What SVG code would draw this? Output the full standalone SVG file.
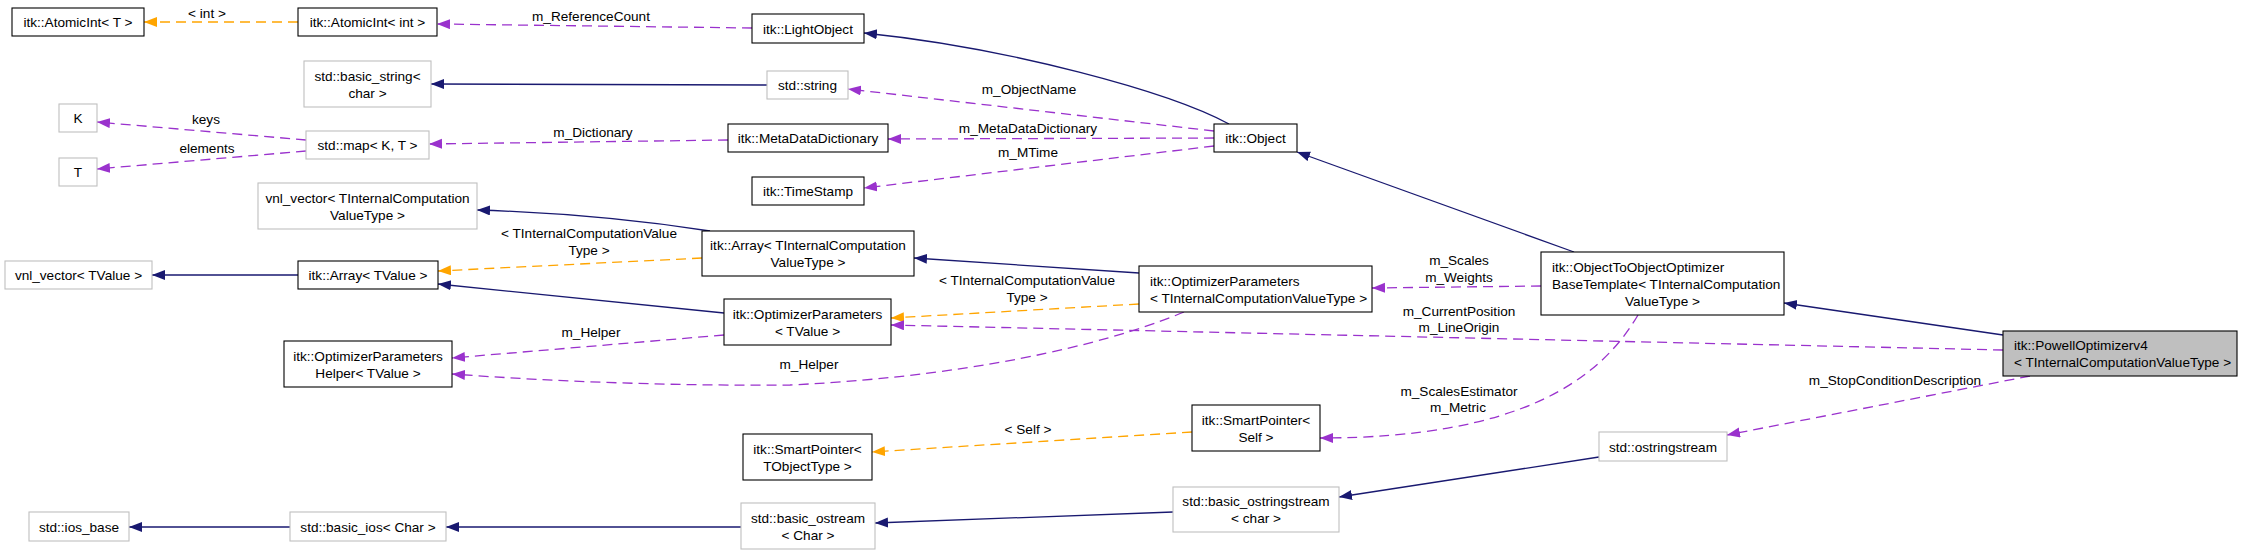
<svg xmlns="http://www.w3.org/2000/svg" width="2243" height="555" viewBox="0 0 2243 555">
<style>
text{font-family:"Liberation Sans",Arial,Helvetica,sans-serif;font-size:13.6px;fill:#000}
.c{text-anchor:middle}
.nb{fill:#fff;stroke:#000;stroke-width:1.1}
.ng{fill:#fff;stroke:#bfbfbf;stroke-width:1.1}
.nf{fill:#bfbfbf;stroke:#000;stroke-width:1.1}
.b{fill:none;stroke:#191970;stroke-width:1.3}
.p{fill:none;stroke:#9a32cd;stroke-width:1.3;stroke-dasharray:10,6}
.o{fill:none;stroke:#ffa500;stroke-width:1.3;stroke-dasharray:10,6}
</style>
<defs>
<marker id="ab" markerUnits="userSpaceOnUse" markerWidth="14" markerHeight="11" refX="13" refY="5" orient="auto"><path d="M0,0 L13,5 L0,10 z" fill="#191970"/></marker>
<marker id="ap" markerUnits="userSpaceOnUse" markerWidth="14" markerHeight="11" refX="13" refY="5" orient="auto"><path d="M0,0 L13,5 L0,10 z" fill="#9a32cd"/></marker>
<marker id="ao" markerUnits="userSpaceOnUse" markerWidth="14" markerHeight="11" refX="13" refY="5" orient="auto"><path d="M0,0 L13,5 L0,10 z" fill="#ffa500"/></marker>
</defs>
<rect width="2243" height="555" fill="#fff"/>
<g id="connectors">
<path class="o" d="M298,22 L144,22" marker-end="url(#ao)"/>
<text class="c" x="207" y="17.5">&lt; int &gt;</text>
<path class="p" d="M752,28 L437,24" marker-end="url(#ap)"/>
<text class="c" x="591" y="20.5">m_ReferenceCount</text>
<path class="b" d="M767,85 L431,84" marker-end="url(#ab)"/>
<path class="p" d="M728,140 L429,144" marker-end="url(#ap)"/>
<text class="c" x="593" y="136.5">m_Dictionary</text>
<path class="p" d="M306,140 L97,122" marker-end="url(#ap)"/>
<text class="c" x="206" y="123.5">keys</text>
<path class="p" d="M306,151 L97,169" marker-end="url(#ap)"/>
<text class="c" x="207" y="152.5">elements</text>
<path class="b" d="M1229,124 C1170,92 1010,48 864,33" marker-end="url(#ab)"/>
<path class="p" d="M1214,131 L848,89" marker-end="url(#ap)"/>
<text class="c" x="1029" y="93.5">m_ObjectName</text>
<path class="p" d="M1214,138 L888,139" marker-end="url(#ap)"/>
<text class="c" x="1028" y="132.5">m_MetaDataDictionary</text>
<path class="p" d="M1214,146 L864,188" marker-end="url(#ap)"/>
<text class="c" x="1028" y="156.5">m_MTime</text>
<path class="b" d="M710,231 Q600,214 477,210" marker-end="url(#ab)"/>
<path class="b" d="M298,275 L152,275" marker-end="url(#ab)"/>
<path class="o" d="M702,258 L438,271" marker-end="url(#ao)"/>
<text class="c" x="589" y="237.5">&lt; TInternalComputationValue</text>
<text class="c" x="589" y="254.5">Type &gt;</text>
<path class="b" d="M724,313 L438,284" marker-end="url(#ab)"/>
<path class="p" d="M724,335 L452,358" marker-end="url(#ap)"/>
<text class="c" x="591" y="336.5">m_Helper</text>
<path class="b" d="M1139,273 L914,258" marker-end="url(#ab)"/>
<path class="o" d="M1139,304 L891,318" marker-end="url(#ao)"/>
<text class="c" x="1027" y="284.5">&lt; TInternalComputationValue</text>
<text class="c" x="1027" y="301.5">Type &gt;</text>
<path class="p" d="M1184,312 C1130,335 1000,375 790,385 C680,386 560,382 452,374" marker-end="url(#ap)"/>
<text class="c" x="809" y="368.5">m_Helper</text>
<path class="b" d="M1574,252 L1297,152" marker-end="url(#ab)"/>
<path class="p" d="M1541,286 L1372,288" marker-end="url(#ap)"/>
<text class="c" x="1459" y="264.5">m_Scales</text>
<text class="c" x="1459" y="281.5">m_Weights</text>
<path class="b" d="M2003,335 L1784,303" marker-end="url(#ab)"/>
<path class="p" d="M2003,350 L891,325" marker-end="url(#ap)"/>
<text class="c" x="1459" y="315.5">m_CurrentPosition</text>
<text class="c" x="1459" y="331.5">m_LineOrigin</text>
<path class="p" d="M1638,315 C1600,380 1520,438 1320,438" marker-end="url(#ap)"/>
<text class="c" x="1459" y="395.5">m_ScalesEstimator</text>
<text class="c" x="1458" y="411.5">m_Metric</text>
<path class="o" d="M1192,432 L872,452" marker-end="url(#ao)"/>
<text class="c" x="1028" y="433.5">&lt; Self &gt;</text>
<path class="p" d="M2030,376 L1727,435" marker-end="url(#ap)"/>
<text class="c" x="1895" y="384.5">m_StopConditionDescription</text>
<path class="b" d="M1599,457 L1339,497" marker-end="url(#ab)"/>
<path class="b" d="M1173,512 L875,523" marker-end="url(#ab)"/>
<path class="b" d="M741,527 L446,527" marker-end="url(#ab)"/>
<path class="b" d="M290,527 L129,527" marker-end="url(#ab)"/>
</g>
<g id="n_atomicT"><rect class="nb" x="12" y="8" width="132" height="28"/><text class="c" x="78" y="27">itk::AtomicInt&lt; T &gt;</text></g>
<g id="n_atomicInt"><rect class="nb" x="298" y="8" width="139" height="28"/><text class="c" x="367.5" y="27">itk::AtomicInt&lt; int &gt;</text></g>
<g id="n_lightObject"><rect class="nb" x="752" y="14" width="112" height="29"/><text class="c" x="808" y="33.5">itk::LightObject</text></g>
<g id="n_basicString"><rect class="ng" x="304" y="61" width="127" height="46"/><text class="c" x="367.5" y="80.5">std::basic_string&lt;</text><text class="c" x="367.5" y="97.5">char &gt;</text></g>
<g id="n_string"><rect class="ng" x="767" y="71" width="81" height="28"/><text class="c" x="807.5" y="90">std::string</text></g>
<g id="n_K"><rect class="ng" x="59" y="104" width="38" height="28"/><text class="c" x="78" y="123">K</text></g>
<g id="n_map"><rect class="ng" x="306" y="131" width="123" height="28"/><text class="c" x="367.5" y="150">std::map&lt; K, T &gt;</text></g>
<g id="n_T"><rect class="ng" x="59" y="158" width="38" height="28"/><text class="c" x="78" y="177">T</text></g>
<g id="n_metaDataDictionary"><rect class="nb" x="728" y="124" width="160" height="28"/><text class="c" x="808" y="143">itk::MetaDataDictionary</text></g>
<g id="n_object"><rect class="nb" x="1214" y="124" width="83" height="28"/><text class="c" x="1255.5" y="143">itk::Object</text></g>
<g id="n_timeStamp"><rect class="nb" x="752" y="177" width="112" height="28"/><text class="c" x="808" y="196">itk::TimeStamp</text></g>
<g id="n_vnlVectorTIC"><rect class="ng" x="258" y="183" width="219" height="46"/><text class="c" x="367.5" y="202.5">vnl_vector&lt; TInternalComputation</text><text class="c" x="367.5" y="219.5">ValueType &gt;</text></g>
<g id="n_arrayTIC"><rect class="nb" x="702" y="231" width="212" height="45"/><text class="c" x="808" y="250">itk::Array&lt; TInternalComputation</text><text class="c" x="808" y="267">ValueType &gt;</text></g>
<g id="n_vnlVectorTValue"><rect class="ng" x="5" y="261" width="147" height="28"/><text class="c" x="78.5" y="280">vnl_vector&lt; TValue &gt;</text></g>
<g id="n_arrayTValue"><rect class="nb" x="298" y="261" width="140" height="28"/><text class="c" x="368" y="280">itk::Array&lt; TValue &gt;</text></g>
<g id="n_optParamsTIC"><rect class="nb" x="1139" y="266" width="233" height="46"/><text x="1150" y="285.5">itk::OptimizerParameters</text><text x="1150" y="302.5">&lt; TInternalComputationValueType &gt;</text></g>
<g id="n_objToObjOpt"><rect class="nb" x="1541" y="252" width="243" height="63"/><text x="1552" y="272">itk::ObjectToObjectOptimizer</text><text x="1552" y="289">BaseTemplate&lt; TInternalComputation</text><text class="c" x="1662.5" y="306">ValueType &gt;</text></g>
<g id="n_optParamsTValue"><rect class="nb" x="724" y="299" width="167" height="46"/><text class="c" x="807.5" y="318.5">itk::OptimizerParameters</text><text class="c" x="807.5" y="335.5">&lt; TValue &gt;</text></g>
<g id="n_powell"><rect class="nf" x="2003" y="331" width="234" height="45"/><text x="2014" y="350">itk::PowellOptimizerv4</text><text x="2014" y="367">&lt; TInternalComputationValueType &gt;</text></g>
<g id="n_optParamsHelper"><rect class="nb" x="284" y="341" width="168" height="46"/><text class="c" x="368" y="360.5">itk::OptimizerParameters</text><text class="c" x="368" y="377.5">Helper&lt; TValue &gt;</text></g>
<g id="n_smartPtrSelf"><rect class="nb" x="1192" y="405" width="128" height="46"/><text class="c" x="1256" y="424.5">itk::SmartPointer&lt;</text><text class="c" x="1256" y="441.5">Self &gt;</text></g>
<g id="n_smartPtrT"><rect class="nb" x="743" y="434" width="129" height="46"/><text class="c" x="807.5" y="453.5">itk::SmartPointer&lt;</text><text class="c" x="807.5" y="470.5">TObjectType &gt;</text></g>
<g id="n_ostringstream"><rect class="ng" x="1599" y="432" width="128" height="29"/><text class="c" x="1663" y="451.5">std::ostringstream</text></g>
<g id="n_basicOstringstream"><rect class="ng" x="1173" y="487" width="166" height="45"/><text class="c" x="1256" y="506">std::basic_ostringstream</text><text class="c" x="1256" y="523">&lt; char &gt;</text></g>
<g id="n_basicOstream"><rect class="ng" x="741" y="503" width="134" height="46"/><text class="c" x="808" y="522.5">std::basic_ostream</text><text class="c" x="808" y="539.5">&lt; Char &gt;</text></g>
<g id="n_iosBase"><rect class="ng" x="29" y="512" width="100" height="29"/><text class="c" x="79" y="531.5">std::ios_base</text></g>
<g id="n_basicIos"><rect class="ng" x="290" y="512" width="156" height="29"/><text class="c" x="368" y="531.5">std::basic_ios&lt; Char &gt;</text></g>
</svg>
